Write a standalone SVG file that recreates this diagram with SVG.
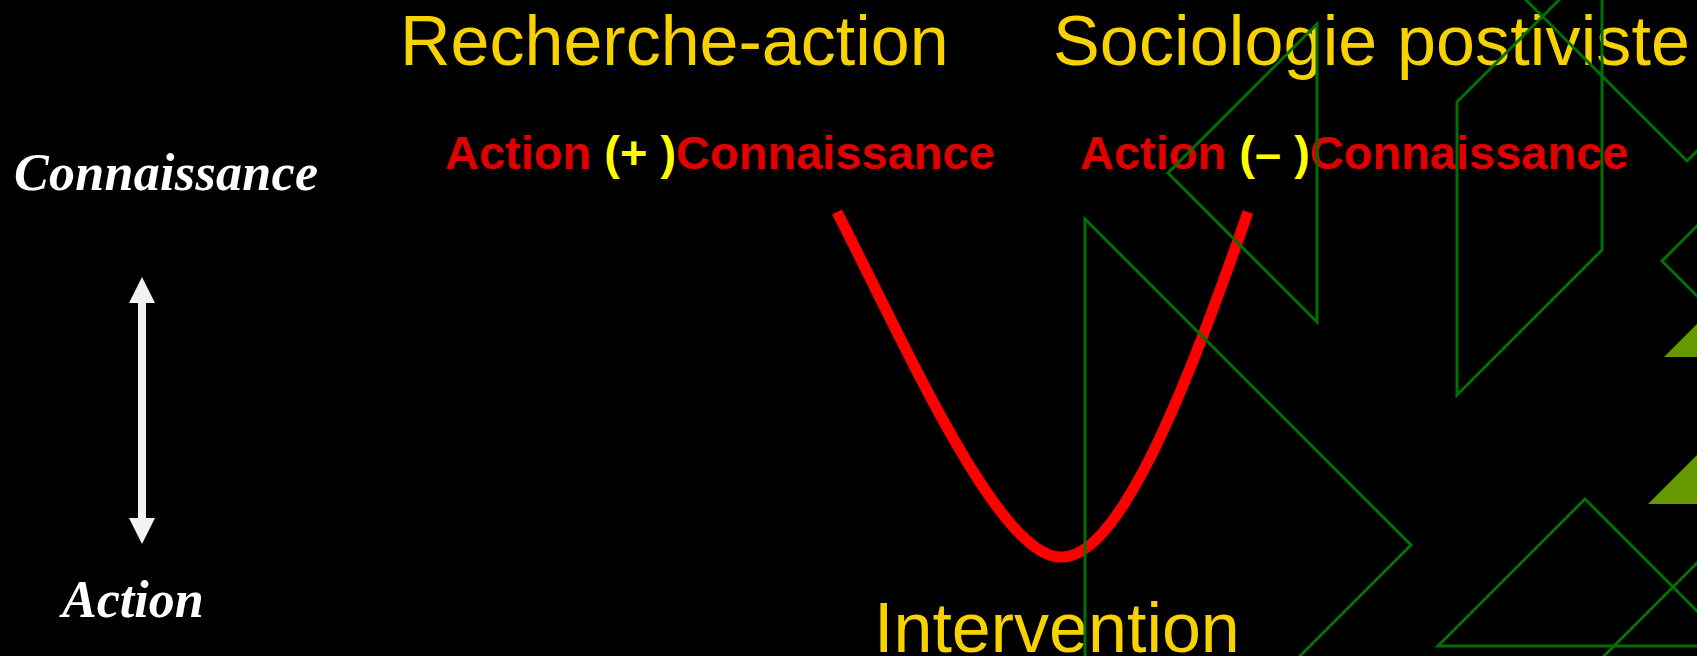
<svg xmlns="http://www.w3.org/2000/svg" width="1697" height="656" viewBox="0 0 1697 656">
  <style>
    .title { font-family: "Liberation Sans", Arial, sans-serif; font-size: 70px; fill: #F7D200; }
    .sub { font-family: "Liberation Sans", Arial, sans-serif; font-size: 47px; font-weight: bold; fill: #E10000; }
    .par { fill: #FFFF00; }
    .axis { font-family: "Liberation Serif", "Times New Roman", serif; font-size: 52px; font-weight: bold; font-style: italic; fill: #FFFFFF; }
    .deco { fill: none; stroke: #007000; stroke-width: 3; }
    .decofill { fill: #669900; stroke: none; }
  </style>
  <rect x="0" y="0" width="1697" height="656" fill="#000000"/>

  <g id="titles">
    <text class="title" x="400" y="65">Recherche-action</text>
    <text class="title" x="1053" y="65" textLength="637">Sociologie postiviste</text>
    <text class="title" x="874" y="652">Intervention</text>
  </g>

  <g id="subtitles">
    <text class="sub" x="445" y="169">Action <tspan class="par">(+ )</tspan>Connaissance</text>
    <text class="sub" x="1080" y="169">Action <tspan class="par">(– )</tspan>Connaissance</text>
  </g>

  <g id="axis">
    <text class="axis" x="14" y="190" textLength="304">Connaissance</text>
    <text class="axis" x="62" y="617">Action</text>
    <polygon points="142,277 155,303 146,303 146,518 155,518 142,544 129,518 138,518 138,303 129,303" fill="#F2F2F2"/>
  </g>

  <g id="curve">
    <path d="M837,212 C907,349 1000,560 1062,557 C1125,557 1198,354 1248,212" fill="none" stroke="#FF0000" stroke-width="11"/>
  </g>

  <g id="decoration">
    <polygon class="deco" points="1085,219 1411,545 1085,871"/>
    <polygon class="deco" points="1317,24 1168,173 1317,322"/>
    <polygon class="deco" points="1457,102 1602,-43 1602,250 1457,395"/>
    <polyline class="deco" points="1500,-26 1687,161 1730,118"/>
    <polyline class="deco" points="1730,193 1662,261 1730,329"/>
    <polygon class="deco" points="1585,499 1438,646 1732,646"/>
    <line class="deco" x1="1740" y1="520" x2="1602" y2="658"/>
    <polygon class="decofill" points="1664,357 1740,281 1740,357"/>
    <polygon class="decofill" points="1648,504 1740,412 1740,504"/>
  </g>
</svg>
